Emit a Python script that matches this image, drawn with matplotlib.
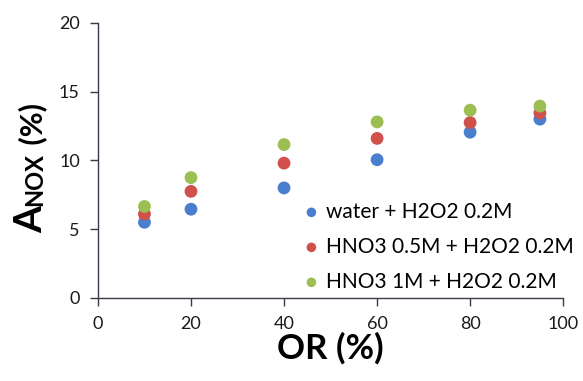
import matplotlib
matplotlib.use("Agg")
import matplotlib.pyplot as plt
from matplotlib.transforms import IdentityTransform

# OR (%) on x, A_NOX (%) on y
or_pct = [10, 20, 40, 60, 80, 95]
water = [5.5, 6.45, 8.0, 10.05, 12.05, 13.0]
hno3_05 = [6.1, 7.75, 9.8, 11.6, 12.75, 13.45]
hno3_1 = [6.65, 8.75, 11.15, 12.8, 13.65, 13.95]

labels = ["water + H2O2 0.2M", "HNO3 0.5M + H2O2 0.2M", "HNO3 1M + H2O2 0.2M"]
colors = ["#4a7fcf", "#d0504c", "#9bbf52"]

plt.rcParams["font.family"] = ["Lato", "DejaVu Sans"]
axcol = "#3a3a48"

fig = plt.figure(figsize=(5.83, 3.81), dpi=100)
ax = fig.add_axes([0.168, 0.218, 0.798, 0.722])

for ys, c, lab in zip([water, hno3_05, hno3_1], colors, labels):
    ax.scatter(or_pct, ys, s=85, color=c, label=lab, edgecolors="none", zorder=3)

ax.set_xlim(0, 100)
ax.set_ylim(0, 20)
ax.set_xticks([0, 20, 40, 60, 80, 100])
ax.set_yticks([0, 5, 10, 15, 20])
for s in ["top", "right"]:
    ax.spines[s].set_visible(False)
for s in ["left", "bottom"]:
    ax.spines[s].set_color(axcol)
    ax.spines[s].set_linewidth(1.0)
ax.tick_params(direction="out", length=6, width=1.0, color=axcol,
               labelsize=13, labelcolor="#1a1a1a", pad=7)

ax.set_xlabel("OR (%)", fontsize=25, fontweight="bold", labelpad=0)

leg = ax.legend(loc="lower left", bbox_to_anchor=(0.423, -0.008), frameon=False,
                fontsize=15, handlelength=0.8, handletextpad=0.3,
                labelspacing=0.72, markerscale=0.75, borderaxespad=0)

# y label: big "A", small-caps "NOX", then "(%)"
fig.canvas.draw()
r = fig.canvas.get_renderer()
xb, y0 = 42, 381 - 233
parts = [("A", 28, 0), ("NOX", 17, 1), (" (%)", 22, 0)]
y = y0
for txt, fs, gap in parts:
    t = fig.text(xb, y, txt, rotation=90, rotation_mode="anchor", ha="left",
                 va="baseline", fontsize=fs, fontweight="bold",
                 transform=IdentityTransform())
    bb = t.get_window_extent(r)
    y = bb.y1 + gap

fig.savefig("out.png", dpi=100)
